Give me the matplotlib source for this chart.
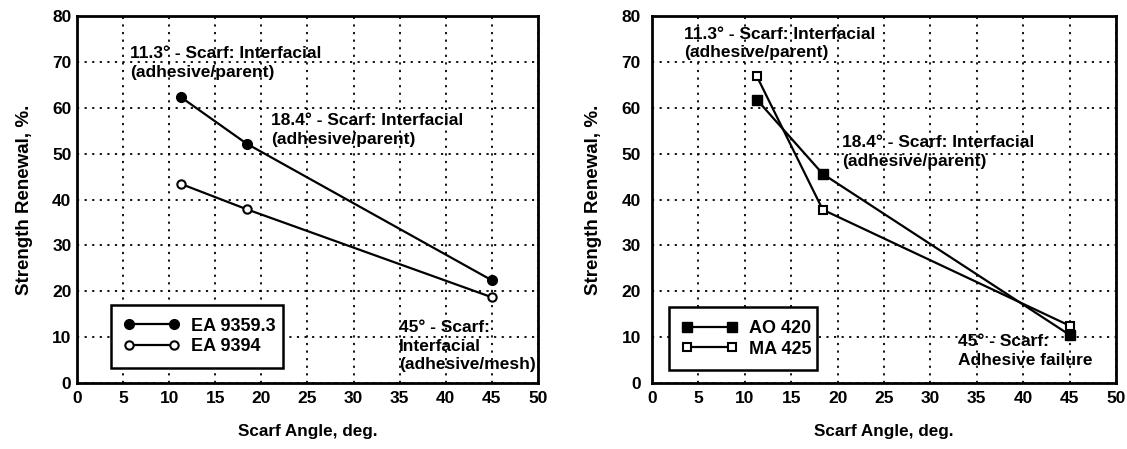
import matplotlib.pyplot as plt

plt.rcParams['font.family'] = ['Liberation Sans', 'DejaVu Sans']
plt.rcParams['font.weight'] = 'bold'

# --- data ---
angles = [11.3, 18.4, 45]

ea9359 = [62.3, 52.2, 22.4]
ea9394 = [43.4, 37.9, 18.7]

ao420 = [61.8, 45.6, 10.5]
ma425 = [66.9, 37.8, 12.5]

x_ticks = list(range(0, 51, 5))
y_ticks = list(range(0, 81, 10))

fig = plt.figure(figsize=(11.27, 4.49), dpi=100)
ax1 = fig.add_axes([0.0683, 0.147, 0.409, 0.817])
ax2 = fig.add_axes([0.5785, 0.147, 0.4117, 0.817])


def style_axes(ax, ypad):
    ax.set_xlim(0, 50)
    ax.set_ylim(0, 80)
    ax.set_xticks(x_ticks)
    ax.set_yticks(y_ticks)
    ax.tick_params(length=0, labelsize=12.5)
    ax.tick_params(axis='x', pad=6)
    ax.tick_params(axis='y', pad=ypad)
    ax.grid(True, color='black', linestyle=(0, (1.2, 3)), linewidth=1.3)
    for sp in ax.spines.values():
        sp.set_linewidth(2)
    ax.set_xlabel('Scarf Angle, deg.', fontsize=12.3, fontweight='bold', labelpad=13)
    ax.set_ylabel('Strength Renewal, %.', fontsize=13.5, fontweight='bold', labelpad=14)


style_axes(ax1, 4)
style_axes(ax2, 8)

note = dict(fontsize=12.5, ha='left', va='top', linespacing=1.3)
leg_kw = dict(loc='lower left', mode='expand', fancybox=False, framealpha=1,
              edgecolor='black', fontsize=13, numpoints=2, handlelength=3.1,
              handletextpad=0.6, borderpad=0.7, labelspacing=0.2, borderaxespad=0)

# --- left panel ---
ax1.plot(angles, ea9359, color='black', lw=1.6, marker='o', ms=7,
         mfc='black', mec='black', label='EA 9359.3')
ax1.plot(angles, ea9394, color='black', lw=1.6, marker='o', ms=6,
         mfc='white', mec='black', mew=1.5, label='EA 9394')

ax1.text(5.8, 73.4, '11.3° - Scarf: Interfacial\n(adhesive/parent)', **note)
ax1.text(21.1, 58.8, '18.4° - Scarf: Interfacial\n(adhesive/parent)', **note)
ax1.text(34.9, 13.7, '45° - Scarf:\nInterfacial\n(adhesive/mesh)', **note)

leg1 = ax1.legend(bbox_to_anchor=(0.074, 0.041, 0.373, 0.172), **leg_kw)
leg1.get_frame().set_linewidth(1.8)

# --- right panel ---
ax2.plot(angles, ao420, color='black', lw=1.6, marker='s', ms=7,
         mfc='black', mec='black', label='AO 420')
ax2.plot(angles, ma425, color='black', lw=1.6, marker='s', ms=6,
         mfc='white', mec='black', mew=1.5, label='MA 425')

ax2.text(3.5, 77.7, '11.3° - Scarf: Interfacial\n(adhesive/parent)', **note)
ax2.text(20.5, 54.1, '18.4° - Scarf: Interfacial\n(adhesive/parent)', **note)
ax2.text(33.0, 10.7, '45° - Scarf:\nAdhesive failure', **note)

leg2 = ax2.legend(bbox_to_anchor=(0.037, 0.035, 0.319, 0.172), **leg_kw)
leg2.get_frame().set_linewidth(1.8)

fig.savefig('out.png', dpi=100)
